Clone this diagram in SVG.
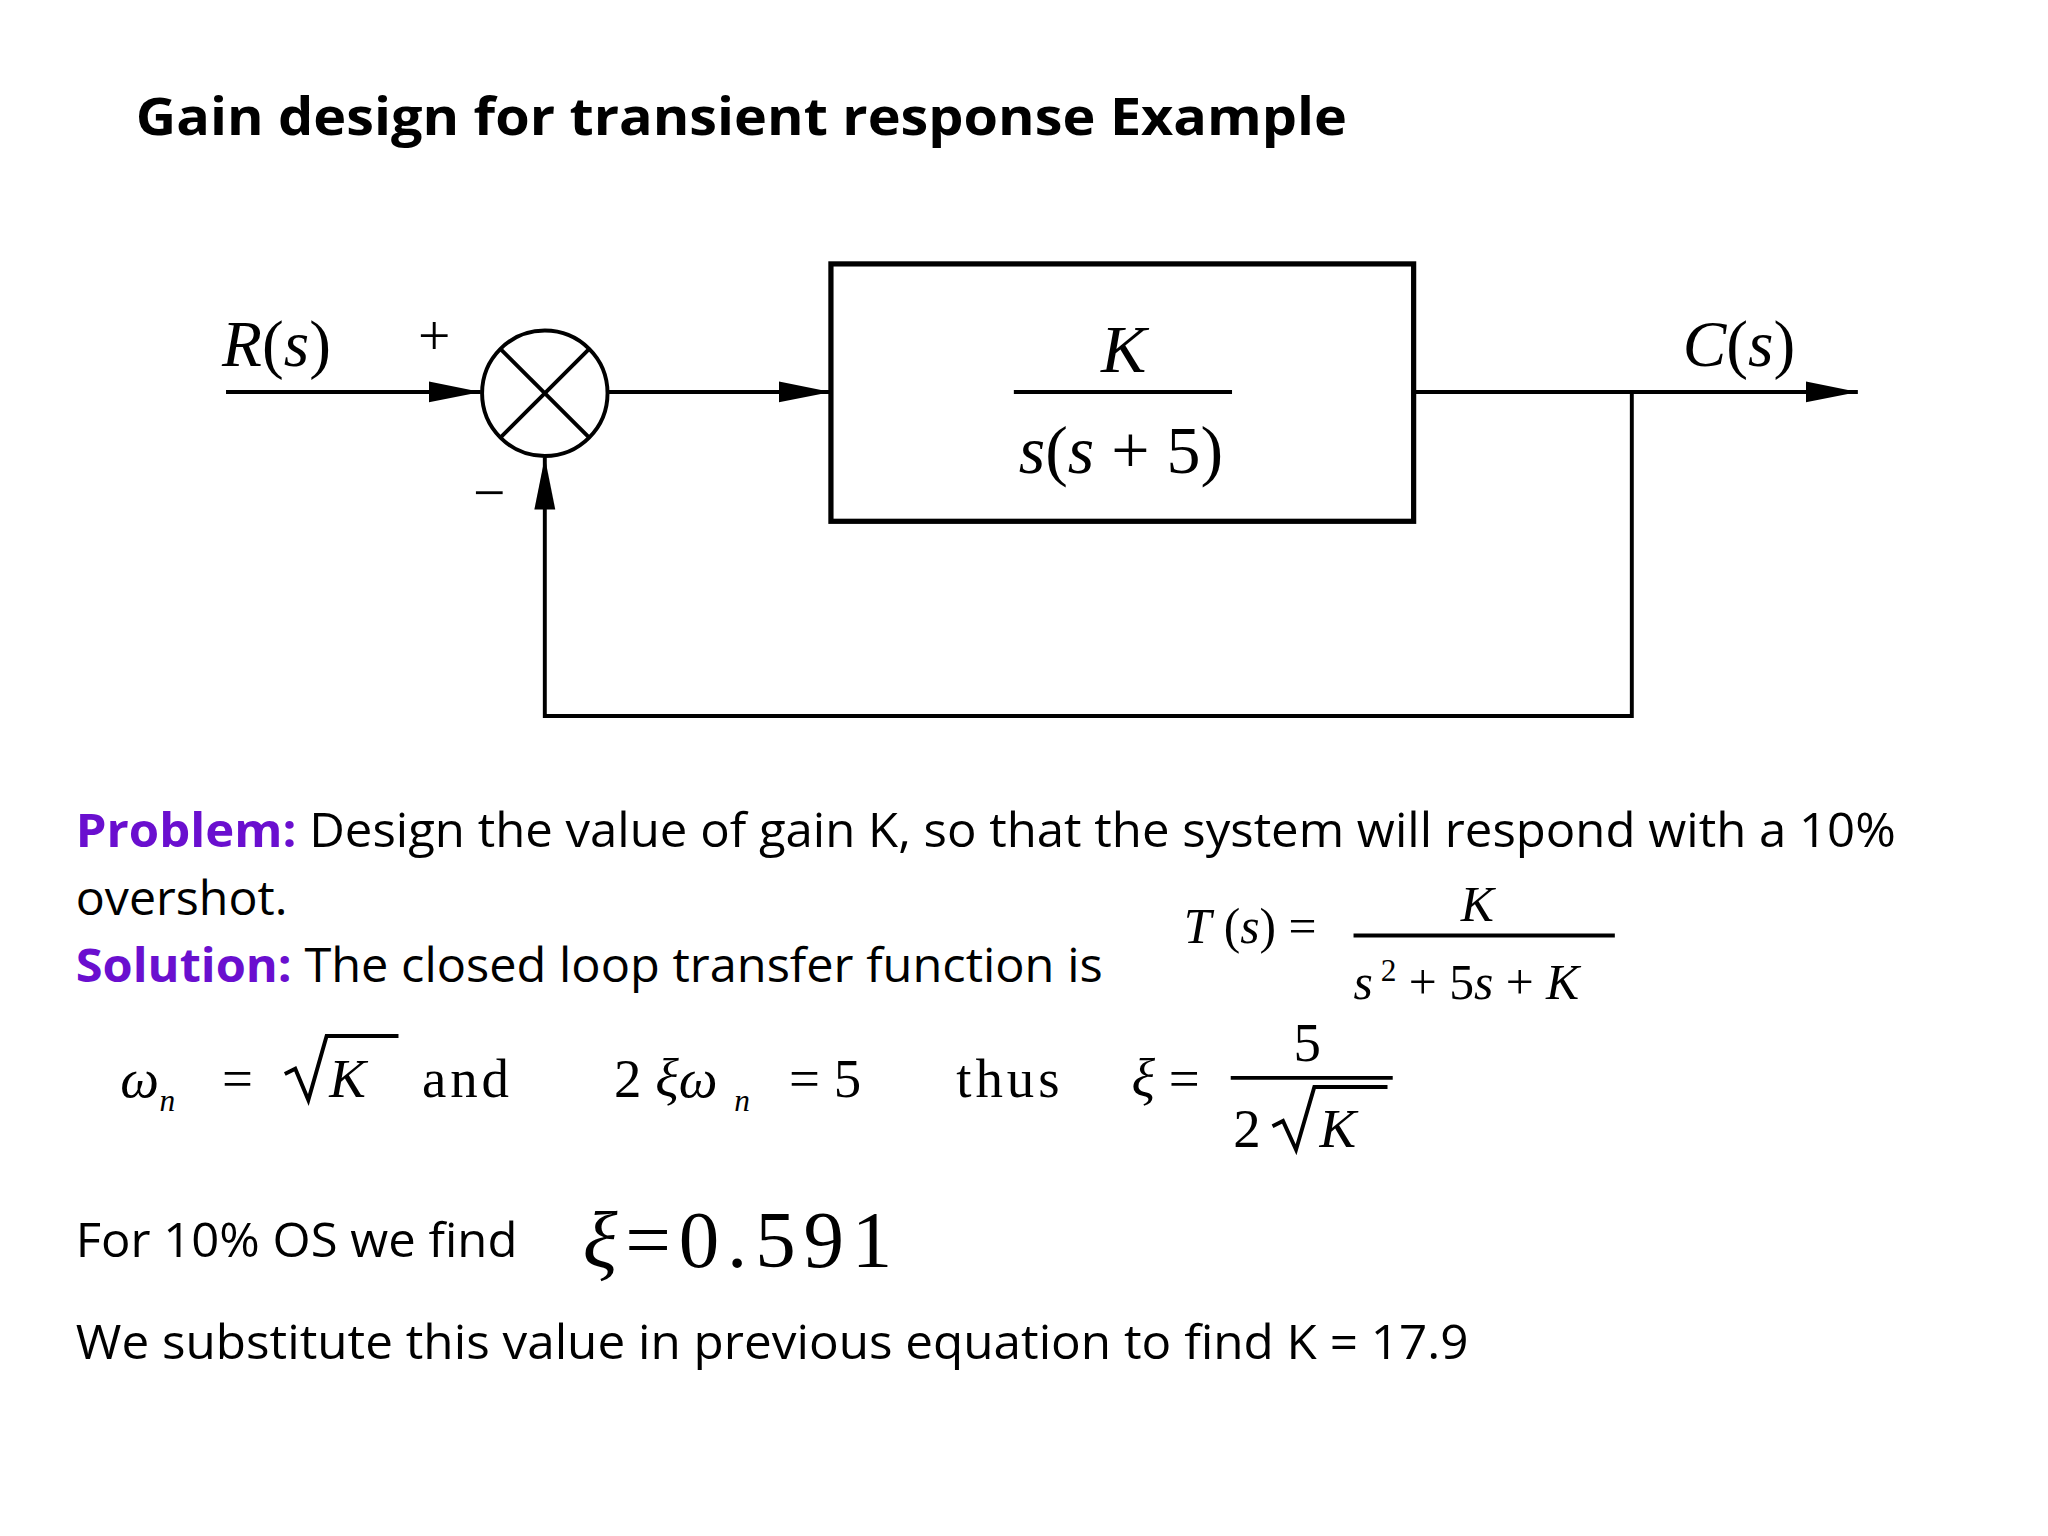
<svg xmlns="http://www.w3.org/2000/svg" width="2048" height="1536" viewBox="0 0 2048 1536">
<style>
.c{font-family:"Open Sans","Liberation Sans",sans-serif;fill:#000}
.p{fill:#6a0fcf;font-weight:bold}
.m{font-family:"Liberation Serif",serif;fill:#000}
.ln{stroke:#000;stroke-width:3;fill:none}
</style>
<defs>
<marker id="b" viewBox="0 0 40 20" markerWidth="40" markerHeight="20" refX="40" refY="10" orient="auto" markerUnits="userSpaceOnUse"><path d="M0,2L40,10L0,18z" fill="#000"/></marker></defs>
<rect width="2048" height="1536" fill="#fff"/>
<g transform="scale(1.3065)">
<text class="c" x="104" y="103" font-size="40" font-weight="bold" textLength="927" lengthAdjust="spacingAndGlyphs">Gain design for transient response Example</text>
<g id="connectors">
<line class="ln" x1="173" y1="300" x2="368" y2="300" marker-end="url(#b)"/>
<line class="ln" x1="466" y1="300" x2="636" y2="300" marker-end="url(#b)"/>
<line class="ln" x1="1082" y1="300" x2="1422" y2="300" marker-end="url(#b)"/>
<polyline class="ln" points="1249,300 1249,548 417,548 417,350" marker-end="url(#b)"/>
</g>
<g id="sum">
<circle cx="417" cy="301" r="48" fill="#fff" stroke="#000" stroke-width="3"/>
<line class="ln" x1="383" y1="267" x2="451" y2="335"/><line class="ln" x1="451" y1="267" x2="383" y2="335"/>
<text class="m" x="320" y="272" font-size="44">+</text>
<text class="m" x="362" y="392" font-size="44">−</text>
</g>
<g id="block">
<rect x="636" y="202" width="446" height="197" fill="#fff" stroke="#000" stroke-width="4"/>
<text class="m" x="860" y="285" font-size="52" font-style="italic" text-anchor="middle">K</text>
<line class="ln" x1="776" y1="300" x2="943" y2="300"/>
<text class="m" x="858" y="362" font-size="52" text-anchor="middle"><tspan font-style="italic">s</tspan>(<tspan font-style="italic">s</tspan> + 5)</text>
</g>
<text class="m" x="170" y="280" font-size="50"><tspan font-style="italic">R</tspan>(<tspan font-style="italic">s</tspan>)</text>
<text class="m" x="1288" y="280" font-size="50"><tspan font-style="italic">C</tspan>(<tspan font-style="italic">s</tspan>)</text>
<g font-size="36">
<text class="c" x="58" y="648" textLength="1393" lengthAdjust="spacingAndGlyphs"><tspan class="p">Problem:</tspan> Design the value of gain K, so that the system will respond with a 10%</text>
<text class="c" x="58" y="700" textLength="162" lengthAdjust="spacingAndGlyphs">overshot.</text>
<text class="c" x="58" y="752" textLength="786" lengthAdjust="spacingAndGlyphs"><tspan class="p">Solution:</tspan> The closed loop transfer function is</text>
<text class="c" x="58" y="962" textLength="338" lengthAdjust="spacingAndGlyphs">For 10% OS we find</text>
<text class="c" x="58" y="1040" textLength="1066" lengthAdjust="spacingAndGlyphs">We substitute this value in previous equation to find K = 17.9</text>
</g>
<g class="m" font-size="38">
<text x="906" y="722"><tspan font-style="italic">T</tspan> (<tspan font-style="italic">s</tspan>) =</text>
<text x="1118" y="705" font-style="italic">K</text>
<line class="ln" x1="1036" y1="716" x2="1236" y2="716" stroke-width="2"/>
<text x="1036" y="765"><tspan font-style="italic">s</tspan><tspan font-size="24" dy="-14"> 2</tspan><tspan dy="14"> + 5</tspan><tspan font-style="italic">s</tspan> + <tspan font-style="italic">K</tspan></text>
<text x="92" y="840" font-style="italic" font-size="42">ω</text><text x="122" y="850" font-style="italic" font-size="24">n</text>
<text x="170" y="840" font-size="42">=</text>
<path d="M218,822 L226,818 L236,842 L250,793 L305,793" class="ln" stroke-width="2.5"/>
<text x="252" y="840" font-style="italic" font-size="42">K</text>
<text x="323" y="840" font-size="42" letter-spacing="3">and</text>
<text x="470" y="840" font-size="42">2 <tspan font-style="italic">ξω</tspan></text><text x="562" y="850" font-style="italic" font-size="24">n</text>
<text x="604" y="840" font-size="42">= 5</text>
<text x="732" y="840" font-size="42" letter-spacing="3">thus</text>
<text x="866" y="840" font-size="42"><tspan font-style="italic">ξ</tspan> =</text>
<text x="990" y="812" font-size="42">5</text>
<line class="ln" x1="942" y1="825" x2="1066" y2="825" stroke-width="2"/>
<text x="944" y="878" font-size="42">2</text>
<path d="M974,862 L982,858 L992,880 L1006,832 L1062,832" class="ln" stroke-width="2.5"/>
<text x="1010" y="878" font-style="italic" font-size="42">K</text>
<text x="446" y="970" font-size="62" letter-spacing="6"><tspan font-style="italic">ξ</tspan>=0.591</text>
</g>
</g>
</svg>
